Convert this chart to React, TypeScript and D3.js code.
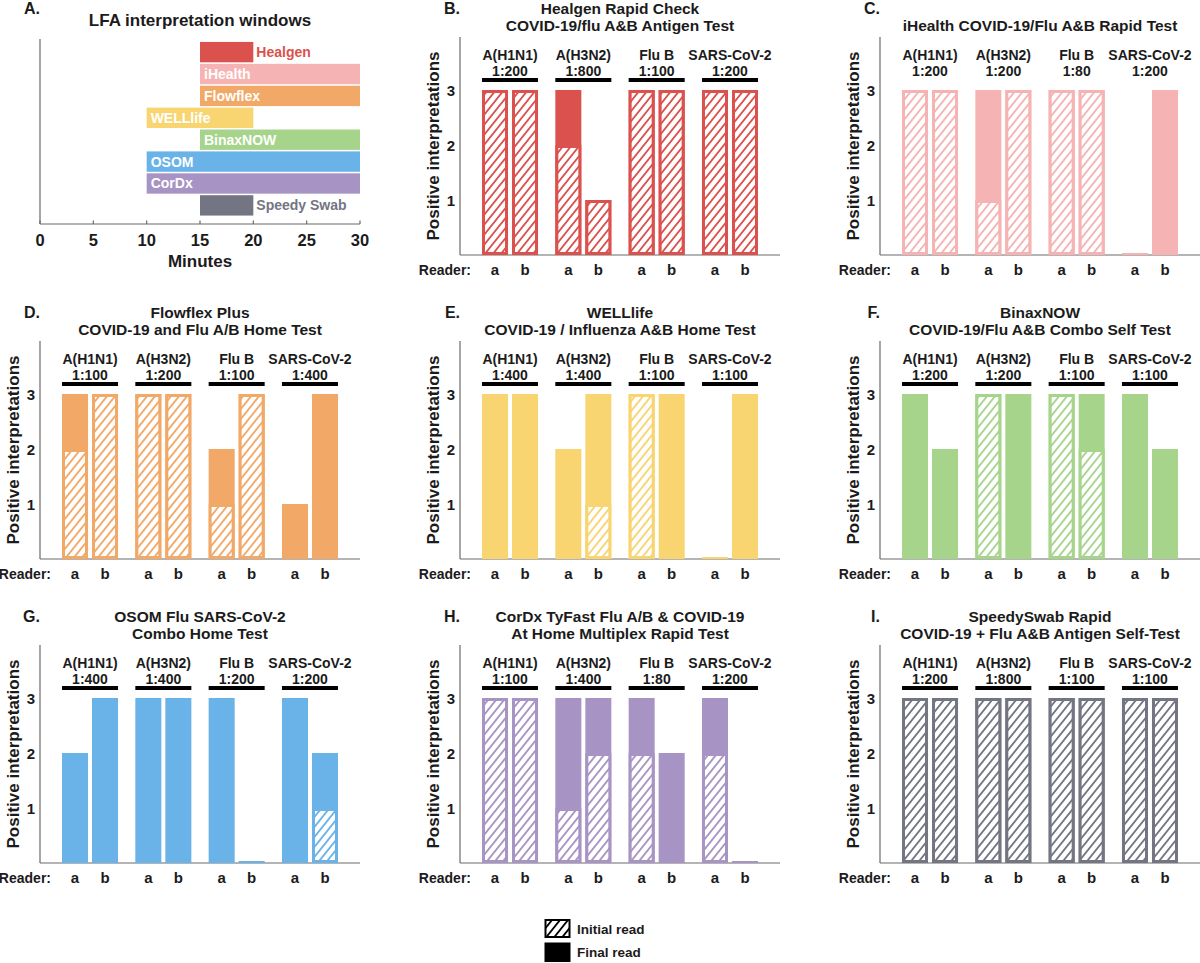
import React from "react";
import * as d3 from "d3";

const FONT = "'Liberation Sans', Arial, Helvetica, sans-serif";

// ---------- Panel A data ----------
const lfaTests = ["Healgen", "iHealth", "Flowflex", "WELLlife", "BinaxNOW", "OSOM", "CorDx", "Speedy Swab"];
const lfaStart = [15, 15, 15, 10, 15, 10, 10, 15];
const lfaEnd = [20, 30, 30, 20, 30, 30, 30, 20];
const lfaColors = ["#db514d", "#f6b3b3", "#f2a867", "#f8d570", "#a6d48b", "#69b3e9", "#a794c4", "#737682"];
const minuteTicks = [0, 5, 10, 15, 20, 25, 30];

// ---------- Bar panels shared ----------
const groups = ["A(H1N1)", "A(H3N2)", "Flu B", "SARS-CoV-2"];
const readers = ["a", "b"];
const yTicks = [1, 2, 3];

// values ordered: A(H1N1) a,b | A(H3N2) a,b | Flu B a,b | SARS-CoV-2 a,b
const healgenTitle = ["Healgen Rapid Check", "COVID-19/flu A&B Antigen Test"];
const healgenTiters = ["1:200", "1:800", "1:100", "1:200"];
const healgenInitial = [3, 3, 2, 1, 3, 3, 3, 3];
const healgenFinal = [3, 3, 3, 1, 3, 3, 3, 3];

const ihealthTitle = ["iHealth COVID-19/Flu A&B Rapid Test"];
const ihealthTiters = ["1:200", "1:200", "1:80", "1:200"];
const ihealthInitial = [3, 3, 1, 3, 3, 3, 0, 0];
const ihealthFinal = [3, 3, 3, 3, 3, 3, 0, 3];

const flowflexTitle = ["Flowflex Plus", "COVID-19 and Flu A/B Home Test"];
const flowflexTiters = ["1:100", "1:200", "1:100", "1:400"];
const flowflexInitial = [2, 3, 3, 3, 1, 3, 0, 0];
const flowflexFinal = [3, 3, 3, 3, 2, 3, 1, 3];

const welllifeTitle = ["WELLlife", "COVID-19 / Influenza A&B Home Test"];
const welllifeTiters = ["1:400", "1:400", "1:100", "1:100"];
const welllifeInitial = [0, 0, 0, 1, 3, 0, 0, 0];
const welllifeFinal = [3, 3, 2, 3, 3, 3, 0, 3];

const binaxTitle = ["BinaxNOW", "COVID-19/Flu A&B Combo Self Test"];
const binaxTiters = ["1:200", "1:200", "1:100", "1:100"];
const binaxInitial = [0, 0, 3, 0, 3, 2, 0, 0];
const binaxFinal = [3, 2, 3, 3, 3, 3, 3, 2];

const osomTitle = ["OSOM Flu SARS-CoV-2", "Combo Home Test"];
const osomTiters = ["1:400", "1:400", "1:200", "1:200"];
const osomInitial = [0, 0, 0, 0, 0, 0, 0, 1];
const osomFinal = [2, 3, 3, 3, 3, 0, 3, 2];

const cordxTitle = ["CorDx TyFast Flu A/B & COVID-19", "At Home Multiplex Rapid Test"];
const cordxTiters = ["1:100", "1:400", "1:80", "1:200"];
const cordxInitial = [3, 3, 1, 2, 2, 0, 2, 0];
const cordxFinal = [3, 3, 3, 3, 3, 2, 3, 0];

const speedyTitle = ["SpeedySwab Rapid", "COVID-19 + Flu A&B Antigen Self-Test"];
const speedyTiters = ["1:200", "1:800", "1:100", "1:100"];
const speedyInitial = [3, 3, 3, 3, 3, 3, 3, 3];
const speedyFinal = [3, 3, 3, 3, 3, 3, 3, 3];

const legendLabels = ["Initial read", "Final read"];

// ---------- layout ----------
const colX = [40, 460, 880];
const rowY = [0, 304, 608];
const AXW = 320;

const panels = [
  { letter: "B.", title: healgenTitle, titers: healgenTiters, initial: healgenInitial, final: healgenFinal, color: lfaColors[0], col: 1, row: 0, lines: true },
  { letter: "C.", title: ihealthTitle, titers: ihealthTiters, initial: ihealthInitial, final: ihealthFinal, color: lfaColors[1], col: 2, row: 0, lines: false },
  { letter: "D.", title: flowflexTitle, titers: flowflexTiters, initial: flowflexInitial, final: flowflexFinal, color: lfaColors[2], col: 0, row: 1, lines: true },
  { letter: "E.", title: welllifeTitle, titers: welllifeTiters, initial: welllifeInitial, final: welllifeFinal, color: lfaColors[3], col: 1, row: 1, lines: true },
  { letter: "F.", title: binaxTitle, titers: binaxTiters, initial: binaxInitial, final: binaxFinal, color: lfaColors[4], col: 2, row: 1, lines: true },
  { letter: "G.", title: osomTitle, titers: osomTiters, initial: osomInitial, final: osomFinal, color: lfaColors[5], col: 0, row: 2, lines: true },
  { letter: "H.", title: cordxTitle, titers: cordxTiters, initial: cordxInitial, final: cordxFinal, color: lfaColors[6], col: 1, row: 2, lines: true },
  { letter: "I.", title: speedyTitle, titers: speedyTiters, initial: speedyInitial, final: speedyFinal, color: lfaColors[7], col: 2, row: 2, lines: true },
];

const AXIS_COLOR = "#6a6a6a";
const TEXT = "#1b1b1b";

function HatchPattern({ id, color }: { id: string; color: string }) {
  return (
    <pattern id={id} patternUnits="userSpaceOnUse" width={8} height={10}>
      <rect width={8} height={10} fill="#fff" />
      <path d="M-2,12.5L10,-2.5 M-2,2.5L2,-2.5 M6,12.5L10,7.5" stroke={color} strokeWidth={1.8} fill="none" />
    </pattern>
  );
}

function PanelA() {
  const x = d3.scaleLinear().domain([0, 30]).range([40, 360]);
  const y = d3.scaleBand<string>().domain(lfaTests).range([41.5, 216]).paddingInner(0.07).paddingOuter(0.02);
  const y0 = 224;
  return (
    <g>
      <text x={40} y={13.5} textAnchor="end" fontSize={16} fontWeight="bold" fill={TEXT}>A.</text>
      <text x={200} y={26} textAnchor="middle" fontSize={17} fontWeight="bold" fill={TEXT}>LFA interpretation windows</text>
      <line x1={40} x2={40} y1={39} y2={y0} stroke={AXIS_COLOR} strokeWidth={1.2} />
      <line x1={40} x2={360} y1={y0} y2={y0} stroke={AXIS_COLOR} strokeWidth={1.2} />
      {minuteTicks.map((t) => (
        <g key={t}>
          <line x1={x(t)} x2={x(t)} y1={y0} y2={y0 - 3.5} stroke={AXIS_COLOR} strokeWidth={1.2} />
          <text x={x(t)} y={246} textAnchor="middle" fontSize={16.5} fontWeight="bold" fill={TEXT}>{t}</text>
        </g>
      ))}
      <text x={200} y={266.5} textAnchor="middle" fontSize={17} fontWeight="bold" fill={TEXT}>Minutes</text>
      {lfaTests.map((name, i) => {
        const x0 = x(lfaStart[i]);
        const x1 = x(lfaEnd[i]);
        const by = y(name)!;
        const bh = y.bandwidth();
        const inside = lfaEnd[i] - lfaStart[i] >= 10;
        return (
          <g key={name}>
            <rect x={x0} y={by} width={x1 - x0} height={bh} fill={lfaColors[i]} />
            <text
              x={inside ? x0 + 4 : x1 + 3}
              y={by + bh / 2 + 5}
              fontSize={14}
              fontWeight="bold"
              fill={inside ? "#fff" : lfaColors[i]}
            >
              {name}
            </text>
          </g>
        );
      })}
    </g>
  );
}

function BarPanel({ p, idx }: { p: any; idx: number }) {
  const ax = colX[p.col];
  const oy = rowY[p.row];
  const x0 = d3.scaleBand<string>().domain(groups).range([ax, ax + AXW]).paddingInner(0.236).paddingOuter(0.3);
  const x1 = d3.scaleBand<string>().domain(readers).range([0, x0.bandwidth()]).paddingInner(0.133);
  const y = d3.scaleLinear().domain([0, 4]).range([oy + 255, oy + 35]);
  const base = y(0);
  const hid = `hatch-${idx}`;
  const cx = ax + AXW / 2;
  const titleYs = p.title.length === 2 ? [oy + 14, oy + 31] : [oy + 31];
  return (
    <g>
      <defs>
        <HatchPattern id={hid} color={p.color} />
      </defs>
      <text x={ax} y={oy + 14} textAnchor="end" fontSize={16} fontWeight="bold" fill={TEXT}>{p.letter}</text>
      {p.title.map((t: string, i: number) => (
        <text key={i} x={cx} y={titleYs[i]} textAnchor="middle" fontSize={15.5} fontWeight="bold" fill={TEXT}>{t}</text>
      ))}
      {/* axes */}
      <line x1={ax} x2={ax} y1={oy + 37} y2={base} stroke={AXIS_COLOR} strokeWidth={1.2} />
      <line x1={ax} x2={ax + AXW} y1={base} y2={base} stroke={AXIS_COLOR} strokeWidth={1.2} />
      {yTicks.map((t) => (
        <text key={t} x={ax - 5} y={y(t) + 5.5} textAnchor="end" fontSize={15} fontWeight="bold" fill={TEXT}>{t}</text>
      ))}
      <text
        transform={`translate(${ax - 27},${(oy + 37 + base) / 2}) rotate(-90)`}
        textAnchor="middle"
        dominantBaseline="central"
        fontSize={17}
        fontWeight="bold"
        fill={TEXT}
      >
        Positive interpretations
      </text>
      {/* group labels */}
      {groups.map((g, gi) => {
        const gx = x0(g)!;
        const gw = x0.bandwidth();
        return (
          <g key={g}>
            <text x={gx + gw / 2} y={y(3) - 30} textAnchor="middle" fontSize={14} fontWeight="bold" fill={TEXT}>{g}</text>
            <text x={gx + gw / 2} y={y(3) - 14.5} textAnchor="middle" fontSize={14} fontWeight="bold" fill={TEXT}>{p.titers[gi]}</text>
            {p.lines && <line x1={gx} x2={gx + gw} y1={y(3) - 10} y2={y(3) - 10} stroke="#000" strokeWidth={4} />}
          </g>
        );
      })}
      {/* bars */}
      {groups.map((g, gi) =>
        readers.map((r, ri) => {
          const k = gi * 2 + ri;
          const bx = x0(g)! + x1(r)!;
          const bw = x1.bandwidth();
          const fin = p.final[k];
          const ini = p.initial[k];
          return (
            <g key={`${g}-${r}`}>
              {fin > 0 ? (
                <rect x={bx} y={y(fin)} width={bw} height={base - y(fin)} fill={p.color} />
              ) : (
                <rect x={bx} y={base - 2} width={bw} height={2} fill={p.color} />
              )}
              {ini > 0 && (
                <rect
                  x={bx + 1.5}
                  y={y(ini) + 1.5}
                  width={bw - 3}
                  height={base - y(ini) - 3}
                  fill={`url(#${hid})`}
                  stroke={p.color}
                  strokeWidth={3}
                />
              )}
            </g>
          );
        })
      )}
      {/* reader labels */}
      <text x={ax + 11} y={base + 20} textAnchor="end" fontSize={14} fontWeight="bold" fill={TEXT}>Reader:</text>
      {groups.map((g) =>
        readers.map((r) => (
          <text key={`${g}-${r}-l`} x={x0(g)! + x1(r)! + x1.bandwidth() / 2} y={base + 20} textAnchor="middle" fontSize={15} fontWeight="bold" fill={TEXT}>
            {r}
          </text>
        ))
      )}
    </g>
  );
}

function Legend() {
  return (
    <g>
      <defs>
        <HatchPattern id="hatch-legend" color="#000" />
      </defs>
      <rect x={545.5} y={920} width={24} height={17} fill="url(#hatch-legend)" stroke="#000" strokeWidth={2} />
      <rect x={544.5} y={942.5} width={26} height={19.5} fill="#000" />
      <text x={577} y={934} fontSize={13.5} fontWeight="bold" fill={TEXT}>{legendLabels[0]}</text>
      <text x={577} y={957} fontSize={13.5} fontWeight="bold" fill={TEXT}>{legendLabels[1]}</text>
    </g>
  );
}

export default function App() {
  return (
    <div style={{ position: "absolute", left: 0, top: 0, width: 1200, height: 963, background: "#fff" }}>
      <svg width={1200} height={963} viewBox="0 0 1200 963" style={{ display: "block", fontFamily: FONT }}>
        <rect width={1200} height={963} fill="#fff" />
        <PanelA />
        {panels.map((p, i) => (
          <BarPanel key={p.letter} p={p} idx={i} />
        ))}
        <Legend />
      </svg>
    </div>
  );
}
